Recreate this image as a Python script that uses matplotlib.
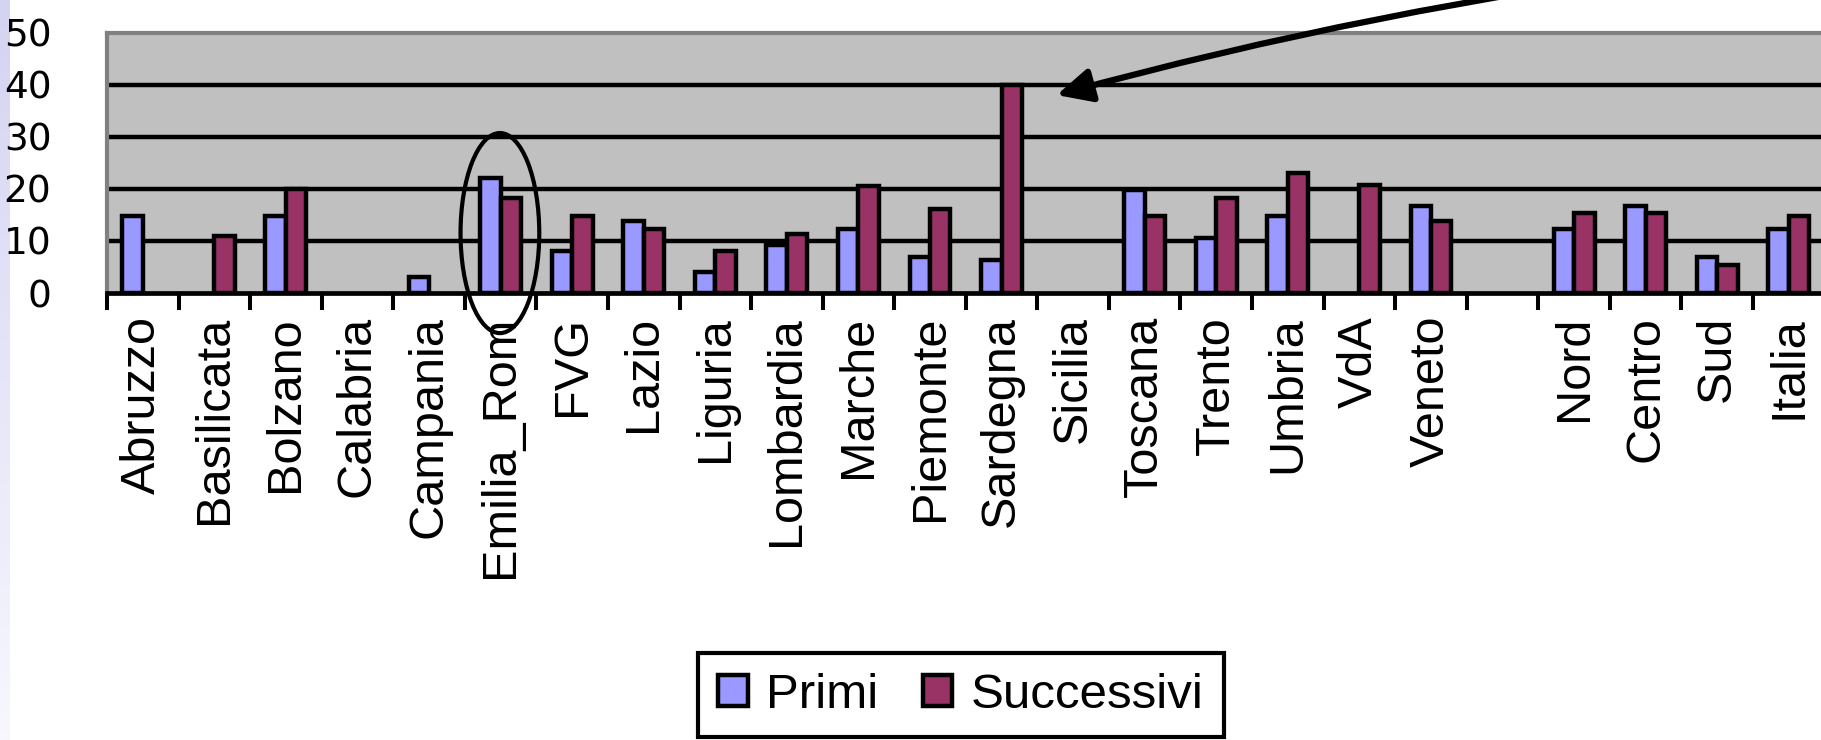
import numpy as np
import matplotlib.pyplot as plt
from matplotlib.patches import Ellipse

plt.rcParams['font.family'] = 'Liberation Sans'

# Regioni e ripartizioni (la categoria vuota separa le regioni dai totali)
regioni = ['Abruzzo', 'Basilicata', 'Bolzano', 'Calabria', 'Campania',
           'Emilia_Rom', 'FVG', 'Lazio', 'Liguria', 'Lombardia', 'Marche',
           'Piemonte', 'Sardegna', 'Sicilia', 'Toscana', 'Trento', 'Umbria',
           'VdA', 'Veneto', '', 'Nord', 'Centro', 'Sud', 'Italia']

nan = np.nan
primi = [14.7, nan, 14.7, nan, 3.0, 22.1, 8.0, 13.8, 4.0, 9.3, 12.3,
         7.0, 6.3, nan, 19.8, 10.6, 14.8, nan, 16.7, nan, 12.3, 16.7, 7.0, 12.3]
successivi = [nan, 11.0, 20.0, nan, nan, 18.3, 14.7, 12.3, 8.0, 11.4, 20.6,
              16.1, 40.0, nan, 14.8, 18.3, 23.1, 20.7, 13.9, nan, 15.3, 15.3, 5.4, 14.8]
serie = ['Primi', 'Successivi']
y_ticks = [0, 10, 20, 30, 40, 50]

W, H = 1821, 740
fig = plt.figure(figsize=(W / 100, H / 100), dpi=100)

# striscia lilla sul bordo sinistro
strip = fig.add_axes([0, 0, 10 / W, 1])
grad = np.linspace(0, 1, 256)[:, None, None]
top = np.array([0.83, 0.83, 0.95])
bot = np.array([0.97, 0.97, 0.995])
strip.imshow(top + (bot - top) * grad, aspect='auto')
strip.axis('off')

ax = fig.add_axes([107 / W, 1 - 293 / H, (1824.6 - 107) / W, (293 - 32.5) / H])
ax.set_facecolor('#C0C0C0')

n = len(regioni)
x = np.arange(n) + 0.5
w = 1 / 3.5
b1 = ax.bar(x - w / 2, primi, w, color='#9999FF', edgecolor='black', linewidth=3.2, zorder=3)
b2 = ax.bar(x + w / 2, successivi, w, color='#993366', edgecolor='black', linewidth=3.2, zorder=3)

for v in y_ticks[1:-1]:
    ax.axhline(v, color='black', lw=3.2, zorder=1)

ax.set_xlim(0, n)
ax.set_ylim(0, 50)

ax.set_xticks(x, regioni)
ax.set_xticks(np.arange(n + 1), minor=True)
ax.tick_params(axis='x', which='major', length=0, pad=16.5, labelsize=35, labelrotation=90)
ax.tick_params(axis='x', which='minor', length=12, width=2.9, direction='out', color='black')

ax.set_yticks(y_ticks)
ax.tick_params(axis='y', length=0, pad=40, labelsize=27)
for t in ax.get_yticklabels():
    t.set_fontfamily('DejaVu Sans')

for s in ['left', 'top']:
    ax.spines[s].set_color('#808080')
    ax.spines[s].set_linewidth(3.0)
ax.spines['bottom'].set_color('black')
ax.spines['bottom'].set_linewidth(3.4)
ax.spines['right'].set_visible(False)

# evidenziazione Emilia-Romagna
ax.add_patch(Ellipse((5.49, 11.5), 1.10, 38.4, fill=False, ec='black', lw=3.0,
                     clip_on=False, zorder=6))

# freccia verso la Sardegna
ax.annotate('', xy=(13.27, 38.0), xytext=(22.26, 62.6),
            arrowprops=dict(arrowstyle='-|>,head_length=0.7,head_width=0.34',
                            mutation_scale=30, lw=4.5, color='black',
                            shrinkA=0, shrinkB=0, connectionstyle='arc3,rad=0.035'),
            annotation_clip=False, zorder=6)

leg = ax.legend([b1, b2], serie, loc='upper center',
                bbox_to_anchor=(961 / W, 1 - 653 / H), bbox_transform=fig.transFigure,
                ncol=2, frameon=True, fancybox=False, edgecolor='black', framealpha=1,
                prop={'family': 'Liberation Sans', 'size': 35.5},
                handlelength=0.6, handleheight=0.6, handletextpad=0.38,
                columnspacing=0.9, borderpad=0.4, borderaxespad=0)
leg.get_frame().set_linewidth(3.0)

fig.savefig('out.png', dpi=100)
